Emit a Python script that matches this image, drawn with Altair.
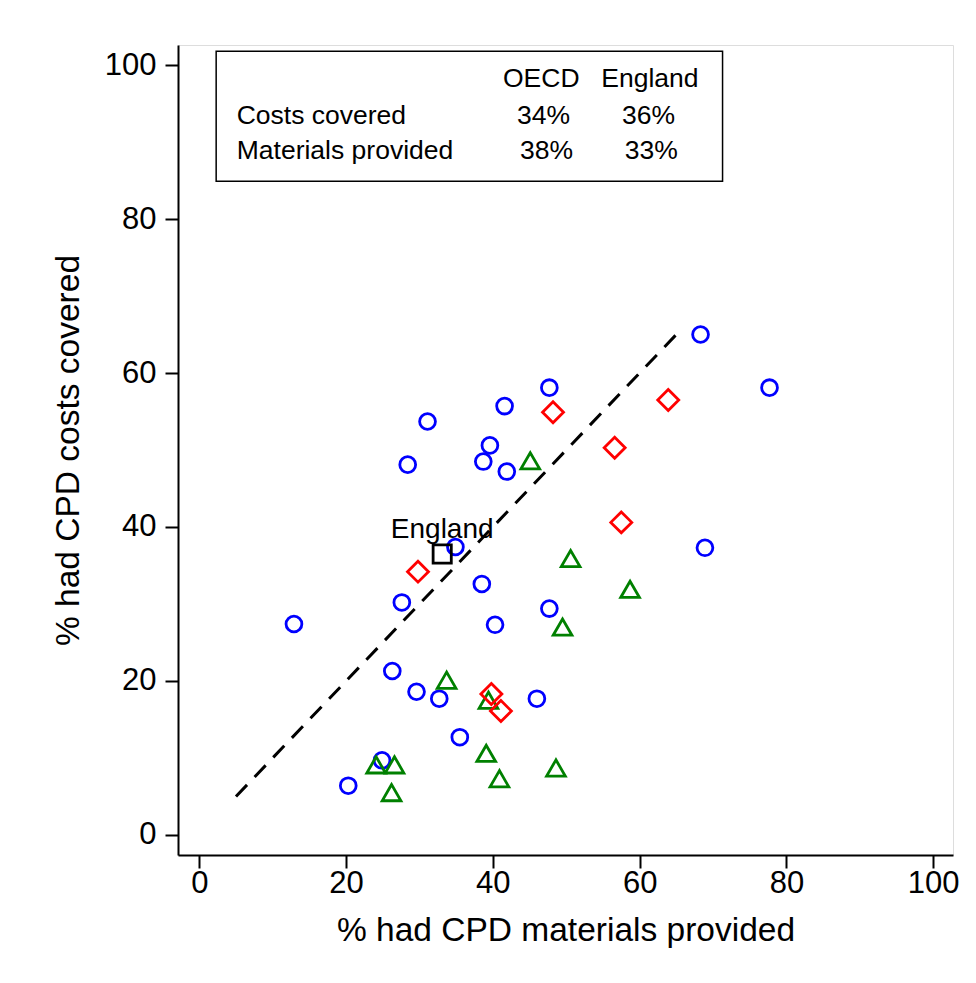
import altair as alt
import pandas as pd

FONT = "Liberation Sans, Arial, Helvetica, sans-serif"

# ---- data ----
circle_x = [47.7, 41.6, 31.1, 39.6, 38.7, 41.9, 28.4, 34.9, 68.3, 77.7, 68.9, 47.7,
            38.5, 27.6, 12.9, 40.3, 26.3, 29.6, 32.7, 46.0, 35.5, 24.9, 20.3]
circle_y = [58.1, 55.7, 53.7, 50.6, 48.5, 47.2, 48.1, 37.4, 65.0, 58.1, 37.3, 29.4,
            32.6, 30.2, 27.4, 27.3, 21.3, 18.6, 17.7, 17.7, 12.7, 9.7, 6.4]

diamond_x = [48.2, 29.8, 63.9, 56.6, 57.5, 39.8, 41.1]
diamond_y = [54.9, 34.2, 56.5, 50.3, 40.6, 18.3, 16.1]

triangle_x = [45.1, 50.6, 58.7, 49.5, 33.7, 39.4, 39.1, 48.6, 40.9, 24.1, 26.6, 26.2]
triangle_y = [48.6, 35.9, 31.9, 27.0, 20.1, 17.5, 10.6, 8.7, 7.3, 9.1, 9.1, 5.5]

england_x = [33.1]
england_y = [36.5]
england_label = ["England"]

# reference (dashed) line end points
line_x = [5, 65]
line_y = [5, 65]

# summary table
table_cols = ["OECD", "England"]
table_rows = ["Costs covered", "Materials provided"]
table_vals = [["34%", "36%"], ["38%", "33%"]]

x_ticks = [0, 20, 40, 60, 80, 100]
y_ticks = [0, 20, 40, 60, 80, 100]

x_title = "% had CPD materials provided"
y_title = "% had CPD costs covered"

# ---- layout helpers (data units) ----
X_DOMAIN = [-2.9, 102.7]
Y_DOMAIN = [-2.6, 102.6]
box = pd.DataFrame({"x": [2.3], "x2": [71.3], "y": [84.9], "y2": [101.8]})
col_x = [[46.9, 61.2], [47.3, 61.6]]
head_x = [46.6, 61.4]
head_y = 97.1
row_y = [92.4, 87.8]
label_x = 5.1

xs = alt.Scale(domain=X_DOMAIN, nice=False, zero=False)
ys = alt.Scale(domain=Y_DOMAIN, nice=False, zero=False)

x_axis = alt.Axis(values=x_ticks, title=x_title, grid=False, tickSize=13, tickWidth=2,
                  domainWidth=2, domainColor="black", tickColor="black",
                  labelFontSize=31, labelFont=FONT, labelColor="black", labelPadding=0,
                  labelFlush=False, labelOverlap=False,
                  titleFontSize=33.5, titleFont=FONT, titleColor="black",
                  titleFontWeight="normal", titlePadding=16)
y_axis = alt.Axis(values=y_ticks, title=y_title, grid=False, tickSize=13, tickWidth=2,
                  domainWidth=2, domainColor="black", tickColor="black",
                  labelFontSize=31, labelFont=FONT, labelColor="black", labelPadding=9,
                  labelFlush=False, labelOverlap=False,
                  titleFontSize=33.5, titleFont=FONT, titleColor="black",
                  titleFontWeight="normal", titlePadding=19)


def pts(xv, yv):
    return pd.DataFrame({"x": xv, "y": yv})


line = alt.Chart(pts(line_x, line_y)).mark_line(
    color="black", strokeWidth=3, strokeDash=[16, 11]
).encode(x=alt.X("x:Q", scale=xs, axis=x_axis), y=alt.Y("y:Q", scale=ys, axis=y_axis))


def sym(xv, yv, shape, color, size):
    return alt.Chart(pts(xv, yv)).mark_point(
        shape=shape, filled=False, color=color, size=size, strokeWidth=2.8, opacity=1
    ).encode(x=alt.X("x:Q", scale=xs), y=alt.Y("y:Q", scale=ys))


circles = sym(circle_x, circle_y, "circle", "#0000ff", 250)
triangles = sym(triangle_x, triangle_y, "triangle-up", "#008000", 350)
diamonds = sym(diamond_x, diamond_y, "diamond", "#ff0000", 440)
england = sym(england_x, england_y, "square", "black", 330)

eng_df = pd.DataFrame({"x": england_x, "y": england_y, "t": england_label})
eng_text = alt.Chart(eng_df).mark_text(
    font=FONT, fontSize=28, color="black", baseline="alphabetic", align="center", dy=-16
).encode(x=alt.X("x:Q", scale=xs), y=alt.Y("y:Q", scale=ys), text="t:N")

box_layer = alt.Chart(box).mark_rect(
    fillOpacity=0, stroke="black", strokeWidth=1.5
).encode(x=alt.X("x:Q", scale=xs), x2="x2:Q", y=alt.Y("y:Q", scale=ys), y2="y2:Q")

head_df = pd.DataFrame({"x": head_x, "y": [head_y] * 2, "t": table_cols})
val_df = pd.DataFrame({
    "x": [col_x[r][c] for r in range(2) for c in range(2)],
    "y": [row_y[r] for r in range(2) for c in range(2)],
    "t": [table_vals[r][c] for r in range(2) for c in range(2)],
})
lab_df = pd.DataFrame({"x": [label_x] * 2, "y": row_y, "t": table_rows})

def txt(df, align):
    return alt.Chart(df).mark_text(
        font=FONT, fontSize=26.5, color="black", baseline="alphabetic", align=align
    ).encode(x=alt.X("x:Q", scale=xs), y=alt.Y("y:Q", scale=ys), text="t:N")

chart = alt.layer(
    line, circles, triangles, diamonds, england, eng_text, box_layer,
    txt(head_df, "center"), txt(val_df, "center"), txt(lab_df, "left")
).properties(
    width=775, height=810,
    autosize=alt.AutoSizeParams(type="none"),
    padding={"left": 170, "top": 37, "right": 15, "bottom": 120},
).configure_view(stroke=None).configure(background="white")

chart.save("out.html", embed_options={"renderer": "svg", "actions": False})
